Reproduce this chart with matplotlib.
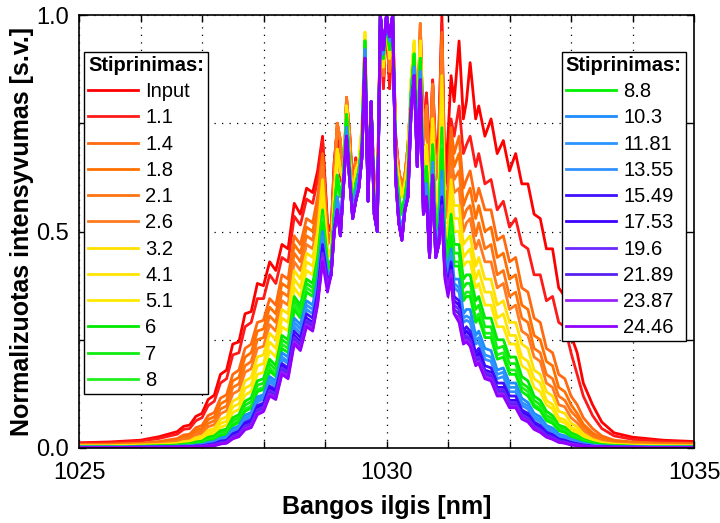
import numpy as np
import matplotlib
matplotlib.use("Agg")
import matplotlib.pyplot as plt

plt.rcParams['font.family'] = ['Liberation Sans', 'DejaVu Sans']

# ---------------- data ----------------
gain_labels = ["Input", "1.1", "1.4", "1.8", "2.1", "2.6", "3.2", "4.1", "5.1",
               "6", "7", "8", "8.8", "10.3", "11.81", "13.55", "15.49", "17.53",
               "19.6", "21.89", "23.87", "24.46"]
line_colors = ["#FF0000", "#FF1A1A", "#FF6A10", "#FF7000", "#FF7410", "#FF7A20",
               "#FFE000", "#FFE400", "#FFE800", "#00E800", "#10EC10", "#20F020",
               "#00F000", "#1E8CFF", "#2A94FF", "#3090FF", "#4010FF", "#3C00FF",
               "#6A28FF", "#5A20F0", "#9A20FF", "#9000FF"]
core_group = ["red", "red", "orange", "orange", "orange", "orange", "yellow", "yellow",
              "yellow", "green", "green", "green", "green", "blue", "blue", "blue",
              "violet", "violet", "violet", "violet", "violet", "violet"]

wl_left = [1025.0, 1025.5, 1026.0, 1026.3, 1026.6, 1026.7, 1026.8, 1026.9, 1027.0, 1027.1,
           1027.2, 1027.3, 1027.4, 1027.5, 1027.6, 1027.7, 1027.8, 1027.9, 1028.0, 1028.1,
           1028.2, 1028.3, 1028.4, 1028.5, 1028.6, 1028.7, 1028.8, 1028.88, 1028.96, 1029.04]
wl_core = [1029.10, 1029.15, 1029.20, 1029.25, 1029.30, 1029.35, 1029.40, 1029.45, 1029.50,
           1029.55, 1029.60, 1029.65, 1029.70, 1029.75, 1029.80, 1029.85, 1029.90, 1029.95,
           1030.00, 1030.05, 1030.10, 1030.15, 1030.20, 1030.25, 1030.30, 1030.35, 1030.40,
           1030.45, 1030.50, 1030.55, 1030.60, 1030.65, 1030.70, 1030.75, 1030.80, 1030.85]
wl_right = [1030.90, 1030.95, 1031.00, 1031.05, 1031.10, 1031.18, 1031.25, 1031.30, 1031.36,
            1031.45, 1031.50, 1031.60, 1031.70, 1031.80, 1031.90, 1032.00, 1032.10, 1032.20,
            1032.30, 1032.40, 1032.50, 1032.60, 1032.70, 1032.80, 1032.90, 1033.00, 1033.10,
            1033.20, 1033.35, 1033.50, 1033.70, 1034.00, 1034.50, 1035.00]

core_red = [0.50, 0.66, 0.74, 0.63, 0.60, 0.80, 0.73, 0.60, 0.67, 0.62, 0.72, 0.90, 0.62, 0.78,
            0.62, 0.56, 1.00, 0.83, 1.00, 0.83, 1.00, 0.72, 0.64, 0.60, 0.63, 0.68, 0.80, 0.88,
            0.70, 0.92, 0.72, 0.82, 0.66, 0.85, 0.68, 0.72]
core_orange = [0.48, 0.63, 0.75, 0.71, 0.60, 0.81, 0.72, 0.58, 0.66, 0.64, 0.72, 0.92, 0.61, 0.78,
               0.60, 0.54, 1.00, 0.86, 1.00, 0.87, 1.00, 0.70, 0.64, 0.60, 0.63, 0.70, 0.82, 0.90,
               0.72, 0.98, 0.70, 0.79, 0.60, 0.84, 0.62, 0.66]
core_yellow = [0.45, 0.58, 0.69, 0.64, 0.62, 0.79, 0.67, 0.56, 0.64, 0.66, 0.74, 0.96, 0.60, 0.80,
               0.58, 0.52, 1.00, 0.88, 1.00, 0.90, 1.00, 0.67, 0.62, 0.58, 0.61, 0.67, 0.85, 0.94,
               0.72, 0.94, 0.63, 0.70, 0.53, 0.76, 0.55, 0.58]
core_green = [0.43, 0.54, 0.63, 0.58, 0.62, 0.77, 0.65, 0.55, 0.61, 0.64, 0.70, 0.94, 0.59, 0.80,
              0.56, 0.51, 1.00, 0.90, 1.00, 0.92, 1.00, 0.65, 0.58, 0.54, 0.58, 0.63, 0.82, 0.91,
              0.69, 0.90, 0.59, 0.65, 0.49, 0.70, 0.50, 0.53]
core_blue = [0.41, 0.51, 0.58, 0.52, 0.61, 0.74, 0.63, 0.54, 0.59, 0.63, 0.68, 0.92, 0.58, 0.80,
             0.55, 0.50, 1.00, 0.91, 1.00, 0.94, 1.00, 0.63, 0.54, 0.50, 0.56, 0.60, 0.80, 0.88,
             0.67, 0.87, 0.56, 0.61, 0.46, 0.66, 0.46, 0.49]
core_violet = [0.40, 0.50, 0.55, 0.49, 0.60, 0.72, 0.62, 0.53, 0.57, 0.60, 0.67, 0.90, 0.57, 0.80,
               0.54, 0.50, 1.00, 0.92, 1.00, 0.95, 1.00, 0.62, 0.52, 0.48, 0.55, 0.58, 0.78, 0.86,
               0.65, 0.85, 0.54, 0.58, 0.44, 0.63, 0.44, 0.47]

# left wings (wl_left)
left_in = [0.012, 0.014, 0.018, 0.026, 0.038, 0.05, 0.053, 0.073, 0.08, 0.112, 0.122, 0.17, 0.18, 0.24, 0.245, 0.31, 0.315, 0.38, 0.375, 0.43, 0.41, 0.47, 0.46, 0.565, 0.54, 0.60, 0.59, 0.64, 0.72, 0.52]
left_1p1 = [0.011, 0.012, 0.016, 0.022, 0.032, 0.043, 0.045, 0.063, 0.07, 0.098, 0.108, 0.15, 0.16, 0.215, 0.22, 0.28, 0.29, 0.345, 0.345, 0.40, 0.38, 0.44, 0.43, 0.535, 0.515, 0.575, 0.565, 0.62, 0.71, 0.51]
left_1p4 = [0.008, 0.009, 0.011, 0.015, 0.022, 0.03, 0.032, 0.047, 0.052, 0.075, 0.082, 0.115, 0.123, 0.17, 0.18, 0.23, 0.24, 0.29, 0.295, 0.345, 0.33, 0.40, 0.39, 0.49, 0.47, 0.53, 0.52, 0.58, 0.68, 0.50]
left_1p8 = [0.007, 0.008, 0.010, 0.013, 0.019, 0.026, 0.028, 0.041, 0.045, 0.066, 0.072, 0.102, 0.11, 0.155, 0.163, 0.21, 0.22, 0.27, 0.275, 0.325, 0.31, 0.38, 0.37, 0.47, 0.45, 0.51, 0.50, 0.56, 0.67, 0.49]
left_2p1 = [0.007, 0.007, 0.009, 0.012, 0.016, 0.022, 0.024, 0.035, 0.039, 0.057, 0.063, 0.09, 0.097, 0.14, 0.148, 0.19, 0.20, 0.25, 0.255, 0.305, 0.29, 0.36, 0.35, 0.45, 0.43, 0.49, 0.48, 0.54, 0.66, 0.48]
left_2p6 = [0.006, 0.006, 0.008, 0.010, 0.014, 0.019, 0.020, 0.030, 0.033, 0.049, 0.054, 0.079, 0.086, 0.125, 0.133, 0.175, 0.183, 0.23, 0.235, 0.285, 0.27, 0.34, 0.33, 0.43, 0.41, 0.47, 0.46, 0.52, 0.65, 0.47]
left_3p2 = [0.005, 0.005, 0.007, 0.008, 0.011, 0.015, 0.016, 0.024, 0.027, 0.041, 0.045, 0.066, 0.072, 0.108, 0.116, 0.155, 0.163, 0.21, 0.215, 0.265, 0.25, 0.32, 0.31, 0.41, 0.39, 0.45, 0.44, 0.50, 0.62, 0.46]
left_4p1 = [0.004, 0.004, 0.006, 0.007, 0.009, 0.013, 0.014, 0.021, 0.023, 0.035, 0.039, 0.057, 0.062, 0.095, 0.102, 0.138, 0.146, 0.19, 0.195, 0.245, 0.23, 0.30, 0.29, 0.39, 0.37, 0.43, 0.42, 0.48, 0.60, 0.45]
left_5p1 = [0.004, 0.004, 0.005, 0.006, 0.008, 0.011, 0.012, 0.017, 0.019, 0.030, 0.033, 0.048, 0.053, 0.082, 0.089, 0.122, 0.131, 0.17, 0.175, 0.225, 0.21, 0.28, 0.27, 0.37, 0.35, 0.41, 0.40, 0.46, 0.58, 0.44]
left_6 = [0.003, 0.003, 0.004, 0.005, 0.007, 0.009, 0.010, 0.014, 0.016, 0.025, 0.028, 0.040, 0.044, 0.070, 0.077, 0.108, 0.116, 0.155, 0.16, 0.205, 0.19, 0.26, 0.25, 0.35, 0.33, 0.39, 0.38, 0.44, 0.55, 0.43]
left_7 = [0.003, 0.003, 0.004, 0.005, 0.006, 0.008, 0.008, 0.012, 0.013, 0.021, 0.024, 0.035, 0.039, 0.063, 0.07, 0.099, 0.107, 0.145, 0.15, 0.195, 0.18, 0.25, 0.24, 0.34, 0.32, 0.38, 0.37, 0.43, 0.54, 0.42]
left_8 = [0.003, 0.003, 0.003, 0.004, 0.005, 0.007, 0.007, 0.010, 0.011, 0.018, 0.021, 0.031, 0.034, 0.056, 0.063, 0.09, 0.097, 0.135, 0.14, 0.185, 0.17, 0.24, 0.23, 0.33, 0.31, 0.37, 0.36, 0.42, 0.53, 0.41]
left_8p8 = [0.002, 0.002, 0.003, 0.004, 0.005, 0.006, 0.006, 0.009, 0.010, 0.016, 0.019, 0.028, 0.031, 0.052, 0.059, 0.085, 0.092, 0.13, 0.135, 0.178, 0.165, 0.23, 0.22, 0.32, 0.30, 0.36, 0.35, 0.41, 0.52, 0.41]
left_10p3 = [0.002, 0.002, 0.002, 0.003, 0.004, 0.005, 0.005, 0.007, 0.008, 0.013, 0.015, 0.023, 0.026, 0.045, 0.051, 0.076, 0.082, 0.118, 0.123, 0.165, 0.155, 0.22, 0.21, 0.30, 0.285, 0.34, 0.33, 0.39, 0.50, 0.40]
left_11p81 = [0.002, 0.002, 0.002, 0.003, 0.004, 0.004, 0.004, 0.006, 0.007, 0.011, 0.013, 0.020, 0.023, 0.041, 0.047, 0.07, 0.076, 0.112, 0.118, 0.158, 0.148, 0.21, 0.20, 0.29, 0.275, 0.33, 0.32, 0.38, 0.49, 0.40]
left_13p55 = [0.002, 0.002, 0.002, 0.003, 0.003, 0.004, 0.004, 0.005, 0.006, 0.010, 0.012, 0.018, 0.021, 0.037, 0.043, 0.065, 0.071, 0.106, 0.113, 0.152, 0.142, 0.205, 0.195, 0.28, 0.265, 0.32, 0.31, 0.37, 0.48, 0.39]
left_15p49 = [0.001, 0.001, 0.002, 0.002, 0.003, 0.003, 0.003, 0.005, 0.005, 0.008, 0.010, 0.016, 0.018, 0.033, 0.039, 0.059, 0.065, 0.098, 0.104, 0.143, 0.135, 0.195, 0.185, 0.27, 0.255, 0.31, 0.30, 0.36, 0.47, 0.39]
left_17p53 = [0.001, 0.001, 0.002, 0.002, 0.002, 0.003, 0.003, 0.004, 0.004, 0.007, 0.009, 0.014, 0.016, 0.030, 0.036, 0.055, 0.060, 0.093, 0.099, 0.138, 0.13, 0.19, 0.18, 0.26, 0.245, 0.30, 0.29, 0.35, 0.46, 0.38]
left_19p6 = [0.001, 0.001, 0.001, 0.002, 0.002, 0.002, 0.002, 0.003, 0.004, 0.006, 0.008, 0.012, 0.014, 0.027, 0.033, 0.051, 0.056, 0.088, 0.095, 0.133, 0.125, 0.185, 0.175, 0.255, 0.24, 0.295, 0.285, 0.345, 0.45, 0.38]
left_21p89 = [0.001, 0.001, 0.001, 0.002, 0.002, 0.002, 0.002, 0.003, 0.003, 0.005, 0.007, 0.011, 0.013, 0.025, 0.030, 0.048, 0.053, 0.084, 0.09, 0.128, 0.12, 0.18, 0.17, 0.25, 0.235, 0.29, 0.28, 0.34, 0.44, 0.37]
left_23p87 = [0.001, 0.001, 0.001, 0.001, 0.002, 0.002, 0.002, 0.002, 0.003, 0.005, 0.006, 0.010, 0.012, 0.023, 0.028, 0.045, 0.05, 0.08, 0.087, 0.124, 0.116, 0.175, 0.165, 0.245, 0.23, 0.285, 0.275, 0.335, 0.44, 0.37]
left_24p46 = [0.001, 0.001, 0.001, 0.001, 0.001, 0.002, 0.002, 0.002, 0.003, 0.004, 0.005, 0.009, 0.011, 0.021, 0.026, 0.042, 0.047, 0.077, 0.084, 0.12, 0.112, 0.17, 0.16, 0.24, 0.225, 0.28, 0.27, 0.33, 0.43, 0.36]

# right wings (wl_right)
right_in = [1.00, 0.62, 0.72, 0.86, 0.80, 0.94, 0.76, 0.80, 0.89, 0.76, 0.79, 0.72, 0.76, 0.68, 0.71, 0.64, 0.68, 0.61, 0.61, 0.54, 0.53, 0.46, 0.46, 0.37, 0.35, 0.26, 0.22, 0.15, 0.10, 0.06, 0.035, 0.025, 0.018, 0.015]
right_1p1 = [0.98, 0.60, 0.66, 0.76, 0.72, 0.79, 0.68, 0.70, 0.72, 0.65, 0.68, 0.61, 0.62, 0.55, 0.57, 0.51, 0.53, 0.47, 0.46, 0.40, 0.40, 0.34, 0.35, 0.29, 0.28, 0.22, 0.17, 0.12, 0.075, 0.045, 0.028, 0.02, 0.015, 0.012]
right_1p4 = [0.96, 0.56, 0.60, 0.74, 0.68, 0.72, 0.60, 0.62, 0.64, 0.57, 0.60, 0.55, 0.55, 0.48, 0.49, 0.43, 0.44, 0.37, 0.36, 0.30, 0.29, 0.23, 0.22, 0.17, 0.16, 0.12, 0.10, 0.07, 0.045, 0.028, 0.018, 0.014, 0.011, 0.01]
right_1p8 = [0.94, 0.55, 0.58, 0.71, 0.65, 0.68, 0.56, 0.58, 0.60, 0.53, 0.56, 0.50, 0.51, 0.44, 0.45, 0.39, 0.40, 0.33, 0.32, 0.26, 0.25, 0.20, 0.19, 0.14, 0.13, 0.10, 0.08, 0.055, 0.035, 0.022, 0.015, 0.012, 0.009, 0.008]
right_2p1 = [0.93, 0.54, 0.56, 0.68, 0.62, 0.64, 0.53, 0.55, 0.56, 0.49, 0.52, 0.46, 0.47, 0.40, 0.41, 0.35, 0.36, 0.30, 0.29, 0.23, 0.22, 0.17, 0.16, 0.12, 0.11, 0.085, 0.07, 0.048, 0.03, 0.019, 0.013, 0.01, 0.008, 0.007]
right_2p6 = [0.92, 0.53, 0.54, 0.65, 0.59, 0.60, 0.50, 0.52, 0.53, 0.46, 0.48, 0.43, 0.43, 0.37, 0.38, 0.32, 0.33, 0.27, 0.26, 0.21, 0.20, 0.15, 0.14, 0.10, 0.095, 0.07, 0.058, 0.04, 0.025, 0.016, 0.011, 0.009, 0.007, 0.006]
right_3p2 = [0.86, 0.52, 0.52, 0.62, 0.56, 0.56, 0.47, 0.48, 0.49, 0.42, 0.44, 0.39, 0.39, 0.33, 0.34, 0.29, 0.29, 0.24, 0.23, 0.18, 0.17, 0.13, 0.12, 0.085, 0.08, 0.058, 0.048, 0.033, 0.02, 0.013, 0.009, 0.007, 0.006, 0.005]
right_4p1 = [0.83, 0.51, 0.50, 0.60, 0.53, 0.53, 0.44, 0.45, 0.46, 0.39, 0.41, 0.36, 0.36, 0.30, 0.31, 0.26, 0.26, 0.21, 0.20, 0.16, 0.15, 0.11, 0.10, 0.07, 0.065, 0.048, 0.04, 0.027, 0.017, 0.011, 0.008, 0.006, 0.005, 0.004]
right_5p1 = [0.80, 0.50, 0.48, 0.57, 0.50, 0.50, 0.42, 0.43, 0.43, 0.37, 0.38, 0.33, 0.33, 0.28, 0.28, 0.24, 0.24, 0.19, 0.18, 0.14, 0.13, 0.10, 0.09, 0.063, 0.058, 0.042, 0.035, 0.023, 0.015, 0.01, 0.007, 0.005, 0.004, 0.004]
right_6 = [0.74, 0.49, 0.46, 0.54, 0.47, 0.47, 0.39, 0.40, 0.40, 0.34, 0.35, 0.30, 0.30, 0.25, 0.25, 0.21, 0.21, 0.165, 0.155, 0.12, 0.11, 0.085, 0.075, 0.053, 0.048, 0.035, 0.029, 0.02, 0.013, 0.008, 0.006, 0.004, 0.003, 0.003]
right_7 = [0.72, 0.48, 0.45, 0.52, 0.45, 0.45, 0.37, 0.38, 0.38, 0.32, 0.33, 0.28, 0.28, 0.23, 0.235, 0.195, 0.195, 0.15, 0.14, 0.11, 0.10, 0.075, 0.068, 0.047, 0.043, 0.031, 0.026, 0.018, 0.011, 0.007, 0.005, 0.004, 0.003, 0.003]
right_8 = [0.70, 0.47, 0.44, 0.50, 0.43, 0.43, 0.35, 0.36, 0.36, 0.30, 0.31, 0.265, 0.265, 0.215, 0.22, 0.18, 0.18, 0.14, 0.13, 0.10, 0.092, 0.068, 0.062, 0.043, 0.039, 0.028, 0.023, 0.016, 0.01, 0.006, 0.005, 0.003, 0.003, 0.003]
right_8p8 = [0.69, 0.46, 0.43, 0.49, 0.42, 0.42, 0.34, 0.35, 0.35, 0.29, 0.30, 0.255, 0.255, 0.205, 0.21, 0.17, 0.17, 0.13, 0.12, 0.095, 0.086, 0.063, 0.057, 0.04, 0.036, 0.026, 0.021, 0.014, 0.009, 0.006, 0.004, 0.003, 0.002, 0.002]
right_10p3 = [0.64, 0.45, 0.41, 0.46, 0.39, 0.39, 0.31, 0.32, 0.32, 0.26, 0.27, 0.23, 0.225, 0.18, 0.185, 0.15, 0.15, 0.115, 0.105, 0.08, 0.072, 0.052, 0.046, 0.032, 0.028, 0.02, 0.016, 0.011, 0.007, 0.005, 0.004, 0.003, 0.002, 0.002]
right_11p81 = [0.62, 0.44, 0.40, 0.45, 0.38, 0.37, 0.30, 0.305, 0.30, 0.25, 0.255, 0.215, 0.21, 0.17, 0.175, 0.14, 0.14, 0.105, 0.097, 0.073, 0.065, 0.047, 0.041, 0.028, 0.025, 0.018, 0.014, 0.01, 0.006, 0.004, 0.003, 0.002, 0.002, 0.002]
right_13p55 = [0.60, 0.43, 0.39, 0.44, 0.37, 0.36, 0.29, 0.295, 0.29, 0.24, 0.245, 0.205, 0.20, 0.16, 0.165, 0.13, 0.13, 0.098, 0.09, 0.068, 0.06, 0.043, 0.037, 0.025, 0.022, 0.016, 0.012, 0.009, 0.005, 0.004, 0.003, 0.002, 0.002, 0.002]
right_15p49 = [0.58, 0.42, 0.38, 0.43, 0.35, 0.34, 0.27, 0.28, 0.27, 0.22, 0.23, 0.19, 0.185, 0.15, 0.15, 0.12, 0.12, 0.088, 0.08, 0.06, 0.052, 0.037, 0.031, 0.021, 0.018, 0.013, 0.01, 0.007, 0.004, 0.003, 0.002, 0.002, 0.001, 0.001]
right_17p53 = [0.57, 0.41, 0.37, 0.42, 0.34, 0.33, 0.26, 0.27, 0.26, 0.21, 0.22, 0.18, 0.175, 0.14, 0.14, 0.11, 0.11, 0.082, 0.074, 0.055, 0.047, 0.033, 0.028, 0.019, 0.016, 0.011, 0.009, 0.006, 0.004, 0.003, 0.002, 0.002, 0.001, 0.001]
right_19p6 = [0.56, 0.41, 0.37, 0.41, 0.33, 0.32, 0.255, 0.26, 0.25, 0.205, 0.21, 0.175, 0.17, 0.135, 0.135, 0.105, 0.105, 0.077, 0.069, 0.051, 0.043, 0.03, 0.025, 0.017, 0.014, 0.01, 0.008, 0.005, 0.003, 0.002, 0.002, 0.001, 0.001, 0.001]
right_21p89 = [0.55, 0.40, 0.36, 0.40, 0.32, 0.31, 0.25, 0.255, 0.245, 0.20, 0.205, 0.17, 0.165, 0.13, 0.13, 0.10, 0.10, 0.073, 0.065, 0.047, 0.04, 0.028, 0.023, 0.015, 0.013, 0.009, 0.007, 0.005, 0.003, 0.002, 0.002, 0.001, 0.001, 0.001]
right_23p87 = [0.54, 0.40, 0.36, 0.40, 0.31, 0.30, 0.245, 0.25, 0.24, 0.195, 0.20, 0.165, 0.16, 0.125, 0.125, 0.096, 0.096, 0.07, 0.062, 0.045, 0.038, 0.026, 0.021, 0.014, 0.012, 0.008, 0.006, 0.004, 0.003, 0.002, 0.001, 0.001, 0.001, 0.001]
right_24p46 = [0.54, 0.39, 0.35, 0.39, 0.31, 0.29, 0.24, 0.245, 0.235, 0.19, 0.195, 0.16, 0.155, 0.12, 0.12, 0.093, 0.093, 0.067, 0.06, 0.043, 0.036, 0.025, 0.02, 0.013, 0.011, 0.007, 0.005, 0.004, 0.002, 0.002, 0.001, 0.001, 0.001, 0.001]

left_wings = [left_in, left_1p1, left_1p4, left_1p8, left_2p1, left_2p6, left_3p2, left_4p1,
              left_5p1, left_6, left_7, left_8, left_8p8, left_10p3, left_11p81, left_13p55,
              left_15p49, left_17p53, left_19p6, left_21p89, left_23p87, left_24p46]
right_wings = [right_in, right_1p1, right_1p4, right_1p8, right_2p1, right_2p6, right_3p2,
               right_4p1, right_5p1, right_6, right_7, right_8, right_8p8, right_10p3,
               right_11p81, right_13p55, right_15p49, right_17p53, right_19p6, right_21p89,
               right_23p87, right_24p46]
cores = {"red": core_red, "orange": core_orange, "yellow": core_yellow,
         "green": core_green, "blue": core_blue, "violet": core_violet}

# ---------------- figure ----------------
W, H = 720, 523
fig = plt.figure(figsize=(W / 100, H / 100), dpi=100)
ax_l, ax_r, ax_t, ax_b = 79, 694, 15, 448
ax = fig.add_axes([ax_l / W, (H - ax_b) / H, (ax_r - ax_l) / W, (ax_b - ax_t) / H])

wavelength = np.array(wl_left + wl_core + wl_right)
handles = []
for lab, col, grp, lw_, rw_ in zip(gain_labels, line_colors, core_group, left_wings, right_wings):
    vals = lw_ + cores[grp] + rw_
    if len(vals) != len(wavelength):
        raise ValueError(f"length mismatch for {lab}: {len(lw_)}, {len(rw_)}")
    h, = ax.plot(wavelength, vals, color=col, lw=2.0, solid_joinstyle='round')
    handles.append(h)

ax.set_xlim(1025, 1035)
ax.set_ylim(0, 1)
xt = np.arange(1025, 1036, 1)
ax.set_xticks(xt)
ax.set_xticklabels([str(v) if v in (1025, 1030, 1035) else '' for v in xt])
yt = [0.0, 0.25, 0.5, 0.75, 1.0]
ax.set_yticks(yt)
ax.set_yticklabels(['0.0', '', '0.5', '', '1.0'])
ax.tick_params(direction='in', top=True, right=True, length=5, width=1.0,
               labelsize=17, colors='black')
ax.tick_params(axis='x', pad=10)
ax.tick_params(axis='y', pad=7)
ax.grid(True, color='black', linestyle=(0, (1, 5)), linewidth=0.9)
ax.set_axisbelow(True)
for s in ax.spines.values():
    s.set_linewidth(1.2)
    s.set_color('black')

ax.set_xlabel('Bangos ilgis [nm]', fontsize=18, fontweight='bold', labelpad=8)
ax.set_ylabel('Normalizuotas intensyvumas [s.v.]', fontsize=18, fontweight='bold', labelpad=2)

leg_kw = dict(loc='upper left', borderaxespad=0, fontsize=14.5, frameon=True,
              fancybox=False, edgecolor='black', framealpha=1, handlelength=2.5,
              handletextpad=0.35, labelspacing=0.36, borderpad=0.2,
              title='Stiprinimas:', title_fontproperties={'weight': 'bold', 'size': 14.5},
              alignment='left')
leg1 = ax.legend(handles[:12], gain_labels[:12], bbox_to_anchor=(0.008, 0.915), **leg_kw)
leg1.get_frame().set_linewidth(1.0)
ax.add_artist(leg1)
leg2 = ax.legend(handles[12:], gain_labels[12:], bbox_to_anchor=(0.785, 0.915), **leg_kw)
leg2.get_frame().set_linewidth(1.0)

fig.savefig('out.png', dpi=100)
